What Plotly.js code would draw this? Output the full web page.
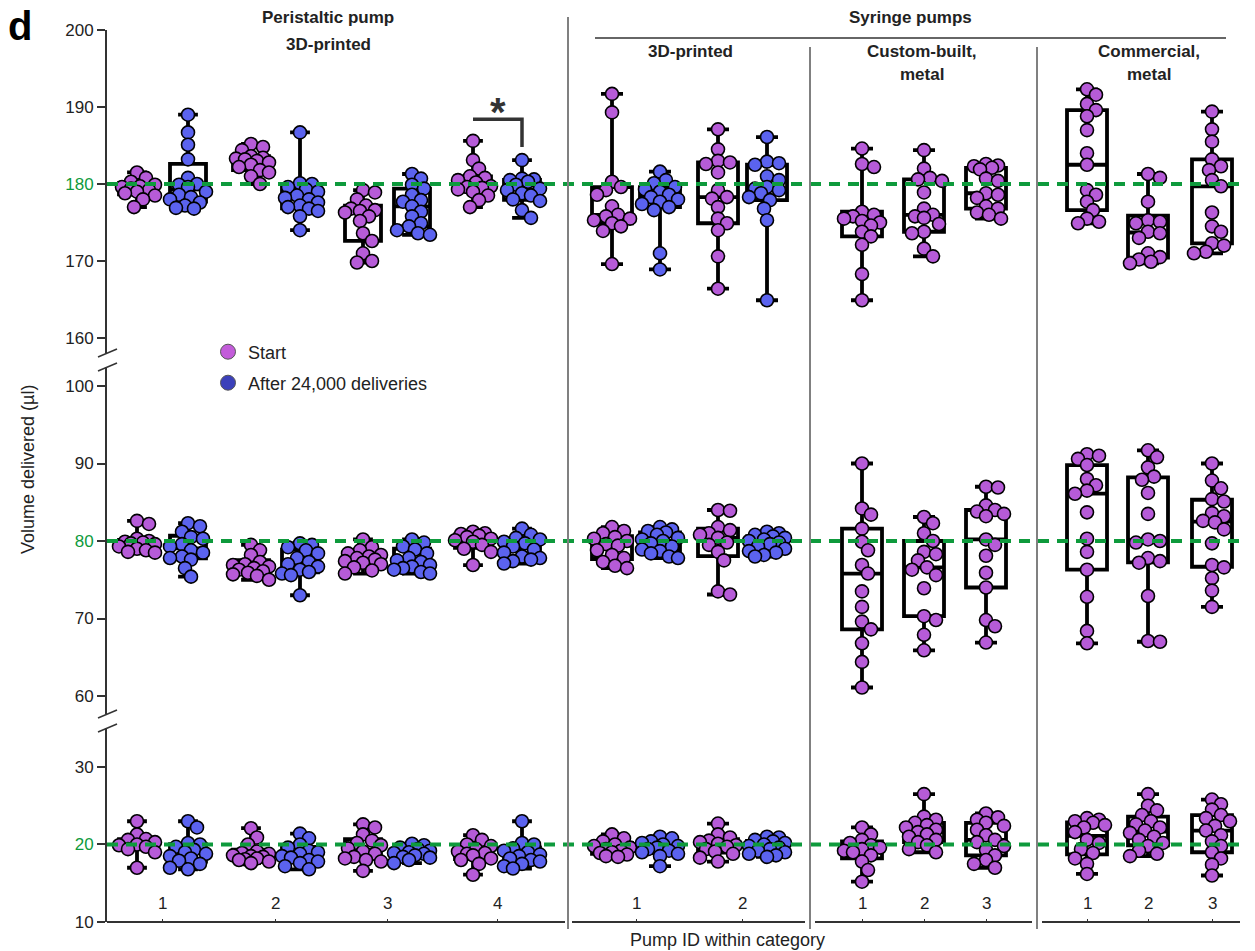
<!DOCTYPE html>
<html><head><meta charset="utf-8">
<script src="https://cdn.plot.ly/plotly-3.0.1.min.js"></script>
<style>body{margin:0;background:#fff}</style>
</head><body><div id="chart" style="width:1255px;height:951px"></div>
<script>
// ---------------- DATA ----------------
const categories = ['Peristaltic pump 3D-printed', 'Syringe pumps 3D-printed', 'Syringe pumps custom-built, metal', 'Syringe pumps commercial, metal'];
const boxNames = ['P1 start','P1 after','P2 start','P2 after','P3 start','P3 after','P4 start','P4 after',
  'S3D1 start','S3D1 after','S3D2 start','S3D2 after','C1 start','C2 start','C3 start','M1 start','M2 start','M3 start'];
const boxPhase = ['start','after','start','after','start','after','start','after',
  'start','after','start','after','start','start','start','start','start','start'];
const boxPump = [0,0,1,1,2,2,3,3,4,4,5,5,6,7,8,9,10,11];
const pumpLabels = ['1','2','3','4','1','2','1','2','3','1','2','3'];
const targetVolumes = [180, 80, 20];

const vol180 = [
  [181.5,180.8,180.3,179.9,179.7,179.6,179.4,179.2,179.0,178.8,178.5,178.0,177.0],
  [189.0,186.7,185.1,183.2,180.8,180.0,179.9,179.6,179.0,178.6,178.3,178.0,177.6,177.2,176.9,176.8],
  [185.2,184.8,184.4,183.6,183.4,183.3,183.2,183.0,182.8,182.5,182.2,181.8,181.5,181.0,180.0],
  [186.7,180.1,180.0,179.6,179.3,179.0,178.5,178.2,178.0,177.6,177.2,177.0,176.8,176.5,175.8,174.0],
  [179.2,178.9,178.0,177.2,176.8,176.6,176.5,176.3,175.8,175.2,173.6,172.6,171.0,170.0,169.8],
  [181.3,180.7,179.9,179.4,178.6,177.9,177.7,177.1,176.4,175.8,174.9,174.5,174.0,173.6,173.4],
  [185.6,183.1,182.0,181.0,180.8,180.5,180.2,179.7,179.6,179.5,179.3,179.0,178.5,177.9,177.0],
  [183.1,180.7,180.6,180.5,180.3,179.9,179.4,179.2,178.8,178.5,178.0,177.8,176.6,175.6],
  [191.7,189.3,180.3,179.6,179.2,178.6,177.1,176.0,175.8,175.5,175.3,174.9,174.5,173.9,169.6],
  [181.6,180.5,180.1,179.6,179.3,179.0,178.6,178.3,178.0,177.7,177.4,177.0,176.6,171.0,168.9],
  [187.1,184.5,183.0,182.8,182.6,181.5,179.2,178.3,178.1,177.0,175.5,174.9,174.0,170.6,166.4],
  [186.1,182.9,182.7,182.5,181.0,180.5,179.6,179.4,179.2,178.8,178.3,177.9,176.8,175.3,164.9],
  [184.6,182.6,182.2,176.4,176.0,175.8,175.5,175.2,175.0,174.6,173.8,173.2,172.1,168.3,164.9],
  [184.4,182.0,180.8,180.6,180.4,178.9,176.8,176.0,175.8,175.6,174.8,173.8,173.6,171.6,170.6],
  [182.6,182.4,182.3,182.1,181.9,180.7,180.4,178.8,178.6,178.2,177.1,176.8,176.3,176.0,175.5],
  [192.3,191.6,190.4,189.6,188.8,187.0,184.0,182.5,179.2,178.6,177.7,176.6,175.5,175.1,174.9],
  [181.3,180.8,177.7,175.3,175.1,174.9,173.8,173.6,173.0,171.0,170.5,170.2,169.9,169.7],
  [189.4,187.1,185.5,183.2,182.3,181.8,180.5,179.7,176.3,174.5,173.8,172.3,172.0,171.2,171.0]
];
const vol80 = [
  [82.6,82.2,80.3,80.0,79.9,79.8,79.7,79.6,79.3,79.0,78.8,78.6,78.5],
  [82.3,81.9,81.2,80.5,80.3,79.6,79.3,78.8,78.5,78.0,77.8,77.6,76.5,75.4],
  [79.5,78.8,78.2,77.3,77.0,76.9,76.7,76.5,76.3,76.1,75.9,75.7,75.5,75.0],
  [79.7,79.5,79.2,78.8,78.4,77.8,77.3,77.0,76.7,76.3,76.0,75.8,75.6,73.0],
  [80.2,79.2,78.8,78.4,78.2,78.0,77.8,77.6,77.4,77.2,77.0,76.6,76.2,75.8],
  [80.2,79.8,79.3,78.9,78.4,77.8,77.5,77.3,76.9,76.7,76.5,76.3,76.0,75.8],
  [81.2,81.0,80.9,80.7,80.5,80.3,80.1,79.9,79.5,79.0,78.6,76.9],
  [81.6,80.8,80.4,80.2,79.9,79.7,79.3,78.9,78.5,78.0,77.8,77.6,77.4,77.1],
  [81.8,81.3,81.0,80.5,80.3,80.0,79.6,79.4,78.8,78.2,77.8,77.3,76.8,76.5],
  [81.8,81.5,81.3,81.1,80.8,80.4,80.2,80.0,79.7,79.3,78.9,78.7,78.4,78.0,77.8],
  [84.0,83.9,81.8,81.4,81.0,80.8,80.4,79.8,79.5,78.6,77.5,73.5,73.1],
  [81.2,81.0,80.8,80.6,80.4,80.2,80.0,79.8,79.6,79.3,79.0,78.7,78.5,78.2,78.0],
  [90.0,84.2,83.4,81.6,79.9,78.8,76.9,75.8,73.5,71.5,69.6,68.6,66.8,64.4,61.1],
  [83.1,82.3,81.0,80.0,78.6,78.3,77.5,76.6,76.3,75.6,73.9,70.3,69.8,67.9,65.9],
  [87.0,86.9,84.6,84.0,83.8,83.5,83.2,80.2,79.5,78.1,75.9,74.0,69.8,69.0,66.9],
  [91.2,91.0,90.6,89.8,88.0,87.2,86.5,86.1,83.7,80.3,78.6,76.3,72.8,68.4,66.8],
  [91.7,90.8,89.5,88.3,87.9,86.2,83.5,80.2,80.0,79.8,77.8,77.4,77.2,72.9,67.1,67.0],
  [90.0,87.8,86.8,85.4,85.1,83.6,83.2,82.6,82.4,81.5,79.7,76.9,76.6,75.2,73.6,71.5]
];
const vol20 = [
  [23.0,21.3,20.7,20.6,20.3,20.0,19.9,19.7,19.4,19.0,17.0],
  [23.0,22.2,20.2,20.0,19.7,19.3,19.0,18.8,18.5,18.2,17.9,17.5,17.0,16.8],
  [22.1,20.9,20.0,19.1,18.9,18.8,18.6,18.5,18.4,18.2,18.1,18.0,17.8,17.6],
  [21.4,20.8,20.0,19.6,19.2,19.0,18.8,18.5,18.3,18.0,17.8,17.6,17.2,16.8],
  [22.6,22.2,21.3,20.5,20.2,19.9,19.5,19.1,18.8,18.4,18.2,18.0,17.8,16.6],
  [20.1,19.9,19.6,19.4,19.2,19.0,18.9,18.8,18.6,18.4,18.3,18.0,17.6],
  [21.2,20.6,20.0,19.8,19.4,19.1,18.9,18.8,18.6,18.2,18.0,17.5,16.1],
  [23.0,20.2,20.0,19.5,19.2,19.0,18.7,18.5,18.2,18.0,17.8,17.5,17.2,16.9],
  [21.3,20.8,20.4,20.0,19.8,19.6,19.4,19.2,19.0,18.9,18.7,18.5,18.4],
  [21.0,20.8,20.4,20.2,20.0,19.8,19.6,19.4,19.2,19.0,18.8,18.5,17.2],
  [22.7,21.3,20.9,20.5,20.3,20.1,19.9,19.7,19.4,19.1,18.8,18.3,17.8],
  [21.0,20.9,20.6,20.4,20.2,20.0,19.8,19.6,19.4,19.2,19.0,18.8,18.6,18.4],
  [22.2,21.3,20.6,20.2,19.9,19.6,19.4,19.2,19.0,18.6,17.8,16.7,15.2],
  [26.5,23.6,23.2,22.8,22.5,22.2,21.9,21.6,21.3,21.0,20.6,20.3,19.9,19.4,19.0],
  [24.0,23.5,23.2,22.8,22.4,21.9,21.2,20.6,20.3,19.8,19.3,18.6,18.0,17.5,17.0],
  [23.4,23.2,23.0,22.8,22.5,22.2,21.6,20.6,20.2,19.4,18.9,18.2,17.5,16.2],
  [26.5,25.0,24.4,23.8,23.0,22.6,22.2,21.8,21.5,21.0,20.6,20.2,19.8,19.2,18.8,18.5],
  [25.8,25.2,24.5,23.8,23.4,23.0,22.4,21.8,21.2,20.4,19.8,19.0,18.2,17.4,16.0]
];

// ---------------- LAYOUT HELPERS ----------------
const L = 107, T = 30, W = 1135, H = 892;
const boxPos = [30,81,144,193,256,305,366,415,505,553,611,660,755,817,879,980,1041,1105];
const px2x = p => p - L;
const px2paper = p => (p - L) / W;
const py2paper = p => (T + H - p) / H;
const colors = {start:'#B65BD8', after:'#5B63EF'};
const FONT = 'Liberation Sans, Arial, sans-serif';
const pxPerUnit = 7.72;

function quant(s, p) {
  const n = s.length; const h = (n + 1) * p;
  if (h <= 1) return s[0]; if (h >= n) return s[n - 1];
  const lo = Math.floor(h); return s[lo - 1] + (h - lo) * (s[lo] - s[lo - 1]);
}
// deterministic beeswarm layout (horizontal offsets only)
function swarm(vals, center) {
  const idx = vals.map((v, i) => i).sort((a, b) => vals[b] - vals[a]);
  const placed = []; const xs = new Array(vals.length); const D = 10;
  for (const i of idx) {
    const yp = vals[i] * pxPerUnit; let best = 0, bestD = -1;
    for (let k = 0; k <= 12; k++) {
      const cand = k === 0 ? 0 : (k % 2 ? 1 : -1) * Math.ceil(k / 2) * 3;
      let md = Infinity;
      placed.forEach(p => { md = Math.min(md, Math.hypot(p.x - cand, p.y - yp)); });
      if (md >= D) { best = cand; bestD = md; break; }
      if (md > bestD + 0.5) { bestD = md; best = cand; }
    }
    placed.push({x: best, y: yp}); xs[i] = center + best;
  }
  return xs;
}

const panels = [{data: vol180, ax: 'y3'}, {data: vol80, ax: 'y2'}, {data: vol20, ax: 'y'}];
const traces = [];
panels.forEach(pn => {
  [[0, 8, 36], [8, 18, 40]].forEach(([a, b, w]) => {
    const q1 = [], med = [], q3 = [], lo = [], hi = [], xs = [];
    for (let i = a; i < b; i++) {
      const s = pn.data[i].slice().sort((u, v) => u - v);
      q1.push(quant(s, 0.25)); med.push(quant(s, 0.5)); q3.push(quant(s, 0.75));
      lo.push(s[0]); hi.push(s[s.length - 1]); xs.push(boxPos[i]);
    }
    traces.push({type: 'box', x: xs, q1: q1, median: med, q3: q3, lowerfence: lo, upperfence: hi,
      yaxis: pn.ax, width: w, whiskerwidth: 0.55, boxpoints: false, showlegend: false, hoverinfo: 'skip',
      line: {color: '#000', width: 3.8}, fillcolor: 'rgba(255,255,255,0)'});
  });
});
panels.forEach(pn => {
  ['start', 'after'].forEach(ph => {
    const x = [], y = [];
    pn.data.forEach((vals, i) => {
      if (boxPhase[i] !== ph) return;
      const xs = swarm(vals, boxPos[i]);
      vals.forEach((v, j) => { x.push(xs[j]); y.push(v); });
    });
    traces.push({type: 'scatter', mode: 'markers', x: x, y: y, yaxis: pn.ax, showlegend: false, hoverinfo: 'skip',
      marker: {size: 13, color: colors[ph], line: {color: '#000', width: 1.6}}});
  });
});
// legend entries
traces.push({type: 'scatter', mode: 'markers', x: [null], y: [null], name: 'Start', legend: 'legend',
  marker: {size: 15, color: '#C35CDA', line: {color: '#555', width: 1}}});
traces.push({type: 'scatter', mode: 'markers', x: [null], y: [null], name: 'After 24,000 deliveries', legend: 'legend2',
  marker: {size: 15, color: '#3B40BA', line: {color: '#555', width: 1}}});

// pump tick labels
const pumpPos = pumpLabels.map((_, k) => {
  const xs = boxPos.filter((_, i) => boxPump[i] === k); return xs.reduce((a, b) => a + b, 0) / xs.length;
});

const green = '#0E9A3C';
const shapes = [];
targetVolumes.forEach((v, i) => {
  shapes.push({type: 'line', xref: 'paper', x0: 0, x1: 1, yref: ['y3', 'y2', 'y'][i], y0: v, y1: v,
    line: {color: green, width: 4, dash: '11px,8px'}});
});
[[568, 17], [810, 47], [1037, 47]].forEach(([p, top]) => {
  shapes.push({type: 'line', xref: 'x', yref: 'paper', x0: px2x(p), x1: px2x(p), y0: py2paper(top), y1: py2paper(929),
    line: {color: '#808080', width: 2}});
});
shapes.push({type: 'line', xref: 'x', yref: 'paper', x0: px2x(595), x1: px2x(1226), y0: py2paper(38), y1: py2paper(38),
  line: {color: '#333', width: 1.5}});
[[107, 565], [572, 805], [815, 1032], [1042, 1240]].forEach(([a, b]) => {
  shapes.push({type: 'line', xref: 'x', yref: 'paper', x0: px2x(a), x1: px2x(b), y0: 0, y1: 0,
    line: {color: '#333', width: 2}});
});
[353, 367, 714, 728].forEach(c => {
  shapes.push({type: 'line', xref: 'paper', yref: 'paper', x0: px2paper(98), x1: px2paper(117),
    y0: py2paper(c + 4), y1: py2paper(c - 4), line: {color: '#333', width: 1.5}});
});
shapes.push({type: 'path', xref: 'x', yref: 'y3', path: `M${boxPos[6]},188.4 L${boxPos[7]},188.4 L${boxPos[7]},184.8`,
  line: {color: '#333', width: 3.5}});

const ann = (text, x, y, opts = {}) => Object.assign({text, x, y, xref: 'x', yref: 'paper', showarrow: false,
  xanchor: 'center', yanchor: 'middle', font: {family: FONT, size: 17, color: '#222'}}, opts);
const annotations = [
  ann('<b>d</b>', px2paper(20), py2paper(26), {xref: 'paper', font: {family: FONT, size: 40, color: '#000'}}),
  ann('<b>Peristaltic pump</b>', px2x(328), py2paper(18)),
  ann('<b>3D-printed</b>', px2x(328), py2paper(45)),
  ann('<b>Syringe pumps</b>', px2x(910), py2paper(18)),
  ann('<b>3D-printed</b>', px2x(690), py2paper(52)),
  ann('<b>Custom-built,</b>', px2x(922), py2paper(52)),
  ann('<b>metal</b>', px2x(922), py2paper(75)),
  ann('<b>Commercial,</b>', px2x(1149), py2paper(52)),
  ann('<b>metal</b>', px2x(1149), py2paper(75)),
  ann('<b>*</b>', (boxPos[6] + boxPos[7]) / 2, 189.4, {yref: 'y3', font: {family: FONT, size: 40, color: '#333'}}),
  ann('Volume delivered (µl)', px2paper(28), py2paper(470), {xref: 'paper', textangle: -90, font: {family: FONT, size: 18, color: '#222'}}),
  ann('Pump ID within category', px2x(727), py2paper(940), {font: {family: FONT, size: 18, color: '#222'}})
];
pumpLabels.forEach((t, k) => annotations.push(ann(t, pumpPos[k], py2paper(903), {font: {family: FONT, size: 17, color: '#222'}})));

const yBase = {showline: true, linecolor: '#333', linewidth: 2, ticks: 'outside', ticklen: 8, tickwidth: 2,
  tickcolor: '#333', showgrid: false, zeroline: false, anchor: 'x', fixedrange: true,
  tickfont: {family: FONT, size: 17, color: '#222'}};
const tickText = (vals, target) => vals.map(v => v === target ? `<span style="color:${green}">${v}</span>` : String(v));
const legBase = {xanchor: 'left', yanchor: 'middle', bgcolor: 'rgba(0,0,0,0)', borderwidth: 0,
  font: {family: FONT, size: 18, color: '#222'}};
const layout = {
  width: 1255, height: 951, margin: {l: L, r: 13, t: T, b: 29}, paper_bgcolor: '#fff', plot_bgcolor: 'rgba(0,0,0,0)',
  hovermode: false, showlegend: true,
  legend: Object.assign({}, legBase, {x: px2paper(208), y: py2paper(352)}),
  legend2: Object.assign({}, legBase, {x: px2paper(208), y: py2paper(383)}),
  xaxis: {range: [0, W], showline: false, showgrid: false, zeroline: false, ticks: 'inside', ticklen: 3,
    tickcolor: '#333', tickvals: pumpPos, showticklabels: false, fixedrange: true, anchor: 'y'},
  yaxis: Object.assign({}, yBase, {domain: [0, py2paper(728)], range: [10, 35.03], tickvals: [10, 20, 30], ticktext: tickText([10, 20, 30], 20)}),
  yaxis2: Object.assign({}, yBase, {domain: [py2paper(714), py2paper(367)], range: [57.68, 102.45], tickvals: [60, 70, 80, 90, 100], ticktext: tickText([60, 70, 80, 90, 100], 80)}),
  yaxis3: Object.assign({}, yBase, {domain: [py2paper(353), 1], range: [158.05, 200], tickvals: [160, 170, 180, 190, 200], ticktext: tickText([160, 170, 180, 190, 200], 180)}),
  shapes: shapes, annotations: annotations
};
Plotly.newPlot('chart', traces, layout, {displayModeBar: false, staticPlot: true});
</script></body></html>
